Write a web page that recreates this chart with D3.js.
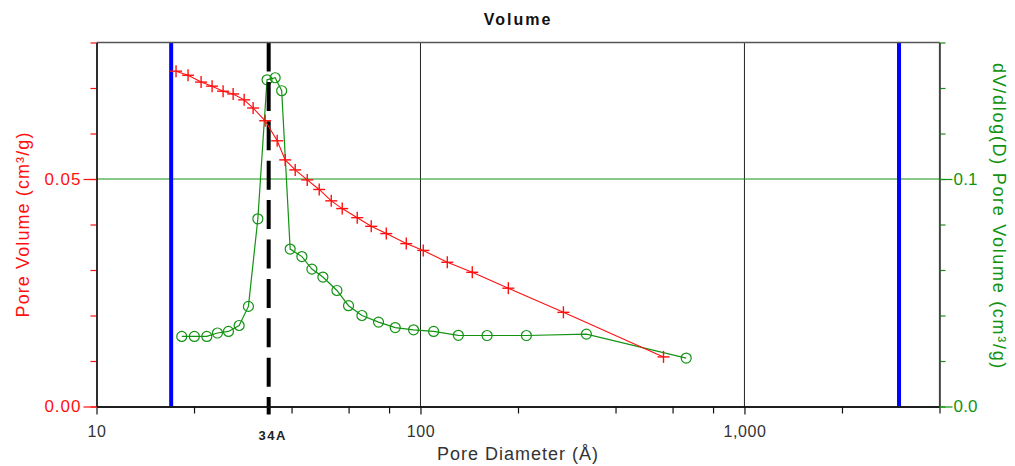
<!DOCTYPE html>
<html>
<head>
<meta charset="utf-8">
<script src="https://cdn.jsdelivr.net/npm/d3@7"></script>
<style>
  html, body { margin: 0; padding: 0; background: #fff; }
  svg { display: block; font-family: "Liberation Sans", Arial, sans-serif; }
</style>
</head>
<body>
<svg id="chart" width="1015" height="466"></svg>
<script>
// Cumulative pore volume (left axis), by pore diameter in Å
const volDiameter = [17.6, 19.17, 21.03, 22.74, 24.59, 26.41, 28.56, 30.44, 33.16, 36.12,
  38.23, 41.05, 44.71, 48.69, 53.04, 57.34, 63.8, 70.47, 78.42, 90.4,
  102.0, 121.0, 144.5, 186.7, 276.2, 562.5];
const volValue = [0.0737, 0.0728, 0.0713, 0.0704, 0.0693, 0.0687, 0.0674, 0.0656, 0.0628, 0.0584,
  0.0542, 0.0520, 0.0498, 0.0477, 0.0452, 0.0435, 0.0415, 0.0396, 0.0380, 0.0358,
  0.0343, 0.0317, 0.0295, 0.0260, 0.0207, 0.0109];

// dV/dlog(D) distribution (right axis)
const distDiameter = [18.33, 20.05, 21.9, 23.62, 25.54, 27.56, 29.44, 31.48, 33.6, 35.6, 37.29,
  39.61, 43.05, 46.22, 49.98, 55.22, 59.97, 65.97, 74.23, 83.57, 95.21,
  109.8, 130.9, 160.5, 212.3, 325.2, 661];
const distValue = [0.0308, 0.0308, 0.0308, 0.0323, 0.0330, 0.0356, 0.0440, 0.0825, 0.1436, 0.1445, 0.1388,
  0.0692, 0.0659, 0.0604, 0.0569, 0.0510, 0.0443, 0.0400, 0.0371, 0.0347, 0.0337,
  0.0330, 0.0313, 0.0312, 0.0312, 0.0318, 0.0213];

// Analysis range bounds and the marked pore size
const rangeBounds = [17, 3000];
const markDiameter = 34;
const markLabel = "34A";

// Axis ticks
const xMajorTicks = [10, 100, 1000];
const xMajorLabels = ["10", "100", "1,000"];
const xMinorTicks = [20, 40, 60, 80, 200, 400, 600, 800, 2000, 4000];
const leftTicks = [0, 0.01, 0.02, 0.03, 0.04, 0.05, 0.06, 0.07, 0.08];
const leftLabelTicks = [0, 0.05];
const leftLabels = ["0.00", "0.05"];
const rightTicks = [0, 0.02, 0.04, 0.06, 0.08, 0.1, 0.12, 0.14, 0.16];
const rightLabelTicks = [0, 0.1];
const rightLabels = ["0.0", "0.1"];

const RED = "#ff1010";
const GREEN = "#129312";
const BLUE = "#0000ff";
const FONT = "Liberation Sans, Arial, sans-serif";

const svg = d3.select("#chart");
const L = 96.5, R = 939.5, T = 42.5, B = 406.5;

const x = d3.scaleLog().domain([10, 4000]).range([L, R]);
const yL = d3.scaleLinear().domain([0, 0.08]).range([B, T]);
const yR = d3.scaleLinear().domain([0, 0.16]).range([B, T]);

// Title
svg.append("text").attr("x", (L + R) / 2).attr("y", 25)
  .attr("text-anchor", "middle").attr("font-size", 16).attr("font-weight", "bold")
  .attr("letter-spacing", 2).attr("fill", "#111").text("Volume");

// Vertical grid at decades
svg.append("g").selectAll("line").data([100, 1000]).join("line")
  .attr("x1", d => x(d)).attr("x2", d => x(d)).attr("y1", T).attr("y2", B)
  .attr("stroke", "#222").attr("stroke-width", 1);

// Horizontal grid at the labelled right-axis value
svg.append("line").attr("x1", L).attr("x2", R)
  .attr("y1", yR(0.1)).attr("y2", yR(0.1))
  .attr("stroke", GREEN).attr("stroke-width", 1);

// Range bounds
svg.append("g").selectAll("line").data(rangeBounds).join("line")
  .attr("x1", d => x(d)).attr("x2", d => x(d)).attr("y1", T).attr("y2", B)
  .attr("stroke", BLUE).attr("stroke-width", 4);

// Distribution series
const distPts = distDiameter.map((d, i) => [d, distValue[i]]);
svg.append("path").datum(distPts)
  .attr("fill", "none").attr("stroke", GREEN).attr("stroke-width", 1.2)
  .attr("d", d3.line().x(d => x(d[0])).y(d => yR(d[1])));
svg.append("g").selectAll("circle").data(distPts).join("circle")
  .attr("cx", d => x(d[0])).attr("cy", d => yR(d[1])).attr("r", 5)
  .attr("fill", "none").attr("stroke", GREEN).attr("stroke-width", 1.2);

// Marked pore size
svg.append("line").attr("x1", x(markDiameter)).attr("x2", x(markDiameter))
  .attr("y1", T).attr("y2", B + 8)
  .attr("stroke", "#000").attr("stroke-width", 4).attr("stroke-dasharray", "29,10.4");

// Cumulative volume series
const volPts = volDiameter.map((d, i) => [d, volValue[i]]);
svg.append("path").datum(volPts)
  .attr("fill", "none").attr("stroke", RED).attr("stroke-width", 1.1)
  .attr("d", d3.line().x(d => x(d[0])).y(d => yL(d[1])));
const cross = svg.append("g").selectAll("g").data(volPts).join("g")
  .attr("transform", d => `translate(${x(d[0])},${yL(d[1])})`);
cross.append("line").attr("x1", -6).attr("x2", 6).attr("y1", 0).attr("y2", 0)
  .attr("stroke", RED).attr("stroke-width", 1.4);
cross.append("line").attr("x1", 0).attr("x2", 0).attr("y1", -6).attr("y2", 6)
  .attr("stroke", RED).attr("stroke-width", 1.4);

// Frame
svg.append("line").attr("x1", L).attr("x2", R).attr("y1", T).attr("y2", T)
  .attr("stroke", "#555").attr("stroke-width", 1.5);
svg.append("line").attr("x1", R).attr("x2", R).attr("y1", T).attr("y2", B)
  .attr("stroke", "#444").attr("stroke-width", 1.2);

// Bottom axis
const xMajor = svg.append("g").attr("transform", `translate(0,${B})`)
  .call(d3.axisBottom(x).tickValues(xMajorTicks)
    .tickFormat((d, i) => xMajorLabels[i]).tickSize(8).tickSizeOuter(0).tickPadding(11));
const xMinor = svg.append("g").attr("transform", `translate(0,${B})`)
  .call(d3.axisBottom(x).tickValues(xMinorTicks)
    .tickFormat(() => "").tickSize(7).tickSizeOuter(0));
[xMajor, xMinor].forEach(g => {
  g.select(".domain").attr("stroke", "#111").attr("stroke-width", 1.3);
  g.selectAll(".tick line").attr("stroke", "#111").attr("stroke-width", 1.2);
});
xMajor.selectAll(".tick text").attr("font-size", 16).attr("fill", "#333")
  .attr("letter-spacing", 0.6).attr("font-family", FONT);

svg.append("text").attr("x", x(markDiameter) + 4).attr("y", 440)
  .attr("text-anchor", "middle").attr("font-size", 13).attr("font-weight", "bold")
  .attr("letter-spacing", 1.5).attr("fill", "#222").text(markLabel);

svg.append("text").attr("x", (L + R) / 2).attr("y", 460)
  .attr("text-anchor", "middle").attr("font-size", 18).attr("fill", "#333")
  .attr("letter-spacing", 1).text("Pore Diameter (Å)");

// Left axis
const yLMinor = svg.append("g").attr("transform", `translate(${L},0)`)
  .call(d3.axisLeft(yL).tickValues(leftTicks).tickFormat(() => "").tickSize(6).tickSizeOuter(0));
const yLMajor = svg.append("g").attr("transform", `translate(${L},0)`)
  .call(d3.axisLeft(yL).tickValues(leftLabelTicks)
    .tickFormat((d, i) => leftLabels[i]).tickSize(13).tickSizeOuter(0).tickPadding(2));
[yLMinor, yLMajor].forEach(g => {
  g.select(".domain").attr("stroke", "#111").attr("stroke-width", 1.3);
  g.selectAll(".tick line").attr("stroke", RED).attr("stroke-width", 1.2);
});
yLMajor.selectAll(".tick text").attr("font-size", 17).attr("fill", RED)
  .attr("letter-spacing", 1).attr("font-family", FONT);

svg.append("text")
  .attr("transform", `translate(29,${(T + B) / 2}) rotate(-90)`)
  .attr("text-anchor", "middle").attr("font-size", 18).attr("fill", RED)
  .attr("letter-spacing", 1.1).text("Pore Volume (cm³/g)");

// Right axis
const yRMinor = svg.append("g").attr("transform", `translate(${R},0)`)
  .call(d3.axisRight(yR).tickValues(rightTicks).tickFormat(() => "").tickSize(6).tickSizeOuter(0));
const yRMajor = svg.append("g").attr("transform", `translate(${R},0)`)
  .call(d3.axisRight(yR).tickValues(rightLabelTicks)
    .tickFormat((d, i) => rightLabels[i]).tickSize(13).tickSizeOuter(0).tickPadding(1));
[yRMinor, yRMajor].forEach(g => {
  g.select(".domain").attr("stroke", "#444").attr("stroke-width", 1.2);
  g.selectAll(".tick line").attr("stroke", GREEN).attr("stroke-width", 1.2);
});
yRMajor.selectAll(".tick text").attr("font-size", 17).attr("fill", GREEN)
  .attr("letter-spacing", 0.2).attr("font-family", FONT);

svg.append("text")
  .attr("transform", `translate(993,${(T + B) / 2 - 8}) rotate(90)`)
  .attr("text-anchor", "middle").attr("font-size", 18).attr("fill", GREEN)
  .attr("letter-spacing", 1.7).text("dV/dlog(D) Pore Volume (cm³/g)");
</script>
</body>
</html>
